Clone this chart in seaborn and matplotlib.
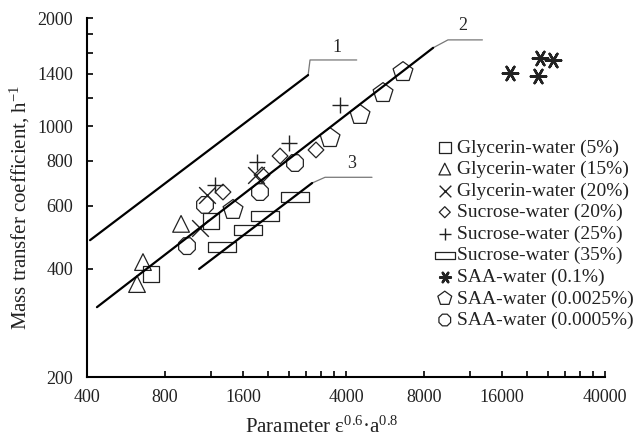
import pandas as pd
import matplotlib
matplotlib.use("Agg")
import matplotlib.pyplot as plt
from matplotlib.path import Path
from matplotlib.ticker import NullFormatter
import seaborn as sns

# Data (log-log axes)
labels = ['Glycerin-water (5%)', 'Glycerin-water (15%)', 'Glycerin-water (20%)',
          'Sucrose-water (20%)', 'Sucrose-water (25%)', 'Sucrose-water (35%)',
          'SAA-water (0.1%)', 'SAA-water (0.0025%)', 'SAA-water (0.0005%)']

gly5_x = [706, 1205]
gly5_y = [387, 544]
gly15_x = [658, 624, 923]
gly15_y = [418, 363, 534]
gly20_x = [1162, 1796, 1092]
gly20_y = [643, 731, 520]
suc20_x = [1340, 1896, 2226, 3063]
suc20_y = [655, 731, 825, 858]
suc25_x = [1248, 1813, 2410, 3793]
suc25_y = [685, 794, 897, 1144]
suc35_x = [1328, 1673, 1947, 2542]
suc35_y = [460, 513, 562, 634]
saa01_x = [17190, 22050, 22440, 25200]
saa01_y = [1406, 1380, 1547, 1528]
saa0025_x = [1465, 3471, 4531, 5560, 6640]
saa0025_y = [584, 926, 1074, 1236, 1414]
saa0005_x = [973, 1142, 1862, 2542]
saa0005_y = [463, 603, 655, 789]

all_x = [gly5_x, gly15_x, gly20_x, suc20_x, suc25_x, suc35_x, saa01_x, saa0025_x, saa0005_x]
all_y = [gly5_y, gly15_y, gly20_y, suc20_y, suc25_y, suc35_y, saa01_y, saa0025_y, saa0005_y]

# correlation lines 1, 2, 3 (end points)
line_names = ['1', '2', '3']
line_x = [[411, 2856], [437, 8680], [1084, 2960]]
line_y = [[481, 1387], [313, 1652], [400, 694]]
# label text position and underline for each line
tag_x = [3690, 11250, 4220]
tag_y = [1660, 1911, 789]
under_x = [[2905, 4400], [9900, 13450], [3320, 5040]]
under_y = [1528, 1738, 720]

rows = []
for lab, xs, ys in zip(labels, all_x, all_y):
    for xv, yv in zip(xs, ys):
        rows.append({'series': lab, 'x': xv, 'y': yv})
df = pd.DataFrame(rows)

# wide rectangle marker for sucrose 35%
rect = Path([(-1.35, -0.5), (1.35, -0.5), (1.35, 0.5), (-1.35, 0.5), (-1.35, -0.5)],
            [Path.MOVETO, Path.LINETO, Path.LINETO, Path.LINETO, Path.CLOSEPOLY])

markers = {
    'Glycerin-water (5%)': ('s', 12, True),
    'Glycerin-water (15%)': ('^', 12, True),
    'Glycerin-water (20%)': ('x', 12, False),
    'Sucrose-water (20%)': ('D', 8, True),
    'Sucrose-water (25%)': ('+', 12, False),
    'Sucrose-water (35%)': (rect, 20, True),
    'SAA-water (0.1%)': ((6, 2, 90), 11, False),
    'SAA-water (0.0025%)': ('p', 15, True),
    'SAA-water (0.0005%)': ('8', 13, True),
}

sns.set_theme(style="ticks")
plt.rcParams['font.family'] = ['Liberation Serif', 'DejaVu Serif']
plt.rcParams['mathtext.default'] = 'regular'

fig = plt.figure(figsize=(6.39, 4.41), dpi=100)
ax = fig.add_axes([87 / 639, 64 / 441, 518 / 639, 359 / 441])

for lab in labels:
    m, ms, filled = markers[lab]
    sub = df[df['series'] == lab]
    if filled:
        sns.scatterplot(data=sub, x='x', y='y', ax=ax, marker=m, s=ms ** 2,
                        facecolor='none', edgecolor='#222222', linewidth=0.9,
                        label=lab, zorder=3)
    else:
        lw = 1.8 if lab.startswith('SAA') else 1.0
        sns.scatterplot(data=sub, x='x', y='y', ax=ax, marker=m, s=ms ** 2,
                        color='#222222', linewidth=lw, label=lab, zorder=3)

for name, lx, ly, tx, ty, ux, uy in zip(line_names, line_x, line_y, tag_x, tag_y, under_x, under_y):
    sns.lineplot(x=lx, y=ly, ax=ax, color='black', linewidth=1.6, sort=False,
                 estimator=None, zorder=4)
    ax.plot([lx[1], ux[0], ux[1]], [ly[1], uy, uy], color='#777777', linewidth=0.9, zorder=2)
    ax.text(tx, ty, name, ha='center', va='center', fontsize=13)

ax.set_xscale('log')
ax.set_yscale('log')
ax.set_xlim(400, 40000)
ax.set_ylim(200, 2000)

xt = [400, 800, 1600, 4000, 8000, 16000, 40000]
yt = [200, 400, 600, 800, 1000, 1400, 2000]
ax.set_xticks(xt)
ax.set_xticklabels([str(v) for v in xt])
ax.set_xticks([1200, 2000, 2400, 2800, 3200, 3600, 12000, 20000, 24000, 28000, 32000, 36000], minor=True)
ax.set_yticks(yt)
ax.set_yticklabels([str(v) for v in yt])
ax.set_yticks([1200, 1600, 1800], minor=True)
ax.xaxis.set_minor_formatter(NullFormatter())
ax.yaxis.set_minor_formatter(NullFormatter())
ax.tick_params(which='both', direction='in', length=4, width=1.2, color='black',
               labelsize=13, labelcolor='#222222')
ax.tick_params(axis='x', which='both', pad=9)
ax.tick_params(axis='y', which='both', pad=10)

for side in ['top', 'right']:
    ax.spines[side].set_visible(False)
for side in ['left', 'bottom']:
    ax.spines[side].set_linewidth(1.5)
    ax.spines[side].set_color('black')

ax.set_xlabel('Parameter ε$^{0.6}$·a$^{0.8}$', fontsize=15, color='#222222')
ax.set_ylabel('Mass transfer coefficient, h$^{-1}$', fontsize=15, color='#222222')
# label centres: x label at (322, 427) px, y label at (20, 207) px
ax.xaxis.set_label_coords((322 - 87) / 518, -(427 - 377) / 359)
ax.yaxis.set_label_coords(-(87 - 20) / 518, (377 - 207) / 359)
ax.xaxis.label.set_va('center')
ax.yaxis.label.set_va('center')

leg = ax.legend(loc='upper left', bbox_to_anchor=(437 / 639, 1 - 139 / 441),
                bbox_transform=fig.transFigure, frameon=False, fontsize=14,
                handlelength=0.8, handletextpad=0.25, labelspacing=0.2,
                borderpad=0, borderaxespad=0, markerscale=0.7)
for t in leg.get_texts():
    t.set_color('#222222')

fig.savefig('out.png', dpi=100)
